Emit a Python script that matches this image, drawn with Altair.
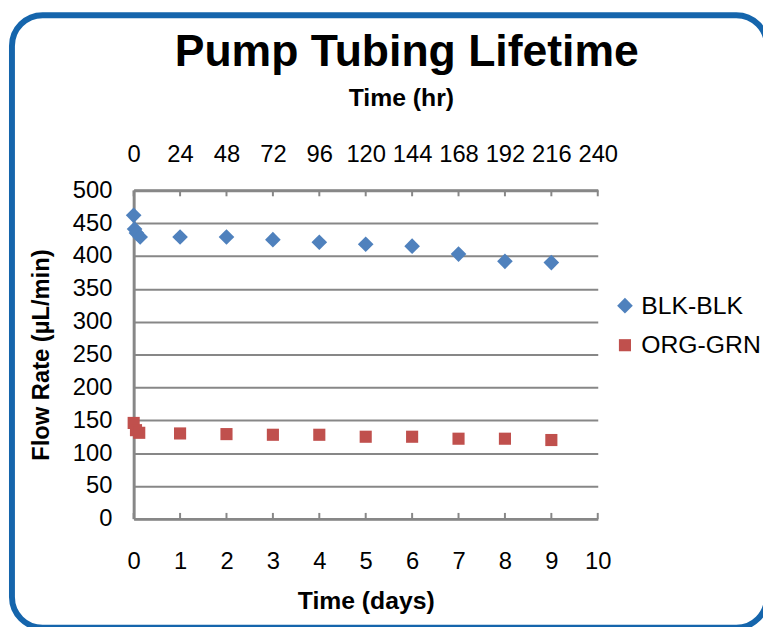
import altair as alt
import pandas as pd

FONT = "Liberation Sans"

# data
blk_days = [0, 0.02, 0.06, 0.14, 1, 2, 3, 4, 5, 6, 7, 8, 9]
blk_flow = [462, 441, 435, 429, 429, 429, 425, 421, 418, 415, 403, 392, 390]
org_days = [0, 0.05, 0.12, 1, 2, 3, 4, 5, 6, 7, 8, 9]
org_flow = [146, 135, 131, 130, 129, 128, 128, 125, 125, 122, 122, 120]
series = ["BLK-BLK", "ORG-GRN"]
day_ticks = list(range(0, 11))
hour_ticks = list(range(0, 241, 24))
y_ticks = list(range(0, 501, 50))
title_text = "Pump Tubing Lifetime"

df = pd.DataFrame(
    {"day": blk_days + org_days,
     "flow": blk_flow + org_flow,
     "series": [series[0]] * len(blk_days) + [series[1]] * len(org_days)}
)

W, H = 469, 332
PL = 127
GRAY = "#878787"

legend = alt.Legend(title=None, orient="none", legendX=484, legendY=104,
                    labelFont=FONT, labelFontSize=25, labelColor="black",
                    symbolSize=170, rowPadding=14, labelOffset=4,
                    symbolStrokeWidth=0)

points = alt.Chart(df).mark_point(filled=True, opacity=1).encode(
    x=alt.X("day:Q", scale=alt.Scale(domain=[0, 10], nice=False),
            axis=alt.Axis(values=day_ticks, title="Time (days)", orient="bottom",
                          ticks=False, domainColor=GRAY, domainWidth=3, grid=False,
                          labelFont=FONT, labelFontSize=24, labelColor="black",
                          labelPadding=31, labelOverlap=False, labelFlush=False,
                          titleFont=FONT, titleFontSize=25,
                          titleFontWeight="bold", titleColor="black",
                          titleY=83, titleBaseline="middle")),
    y=alt.Y("flow:Q", scale=alt.Scale(domain=[0, 500], nice=False),
            axis=alt.Axis(values=y_ticks, title="Flow Rate (µL/min)", ticks=False,
                          domainColor=GRAY, domainWidth=3, grid=True,
                          gridColor=GRAY, gridWidth=2, labelFont=FONT,
                          labelFontSize=24, labelColor="black", labelPadding=22,
                          labelOverlap=False,
                          titleFont=FONT, titleFontSize=24, titleFontWeight="bold",
                          titleColor="black", titleX=-93, titleY=H / 2,
                          titleAngle=-90, titleAlign="center",
                          titleBaseline="middle")),
    color=alt.Color("series:N", scale=alt.Scale(domain=series, range=["#4F81BD", "#C0504D"]),
                    legend=legend),
    shape=alt.Shape("series:N", scale=alt.Scale(domain=series, range=["diamond", "square"]),
                    legend=legend),
    size=alt.Size("series:N", scale=alt.Scale(domain=series, range=[250, 150]),
                  legend=None),
)

bottom_ticks = alt.Chart(pd.DataFrame({"day": day_ticks})).mark_rule(
    color=GRAY, strokeWidth=2).encode(
    x=alt.X("day:Q", scale=alt.Scale(domain=[0, 10], nice=False), axis=None),
    y=alt.value(H), y2=alt.value(H - 6),
)

top_ticks = alt.Chart(pd.DataFrame({"hour": hour_ticks})).mark_rule(
    color=GRAY, strokeWidth=2).encode(
    x=alt.X("hour:Q", scale=alt.Scale(domain=[0, 240], nice=False),
            axis=alt.Axis(orient="top", values=hour_ticks, title="Time (hr)",
                          ticks=False, domainColor=GRAY, domainWidth=3,
                          labelFont=FONT, labelFontSize=24, labelColor="black",
                          labelPadding=24, labelOverlap=False, labelFlush=False,
                          titleFont=FONT, titleFontSize=25,
                          titleFontWeight="bold", titleColor="black",
                          titleX=270, titleY=-94, titleAlign="center",
                          titleBaseline="middle")),
    y=alt.value(0), y2=alt.value(6),
)

border = alt.Chart(alt.Data(values=[{}])).mark_rect(
    filled=False, stroke="#1565AC", strokeWidth=6, cornerRadius=31).encode(
    x=alt.value(-123), x2=alt.value(640), y=alt.value(-177), y2=alt.value(442),
)

title = alt.Chart(alt.Data(values=[{}])).mark_text(
    font=FONT, fontSize=45, fontWeight="bold", color="black",
    align="center", baseline="alphabetic").encode(
    text=alt.value(title_text), x=alt.value(276), y=alt.value(-126),
)

chart = alt.layer(border, title, points, bottom_ticks, top_ticks).resolve_scale(
    x="independent"
).properties(
    width=W, height=H,
    autosize=alt.AutoSizeParams(type="none"),
    padding={"left": PL, "top": 181, "right": 763 - PL - W, "bottom": 106},
).configure_view(stroke=None)

chart.save("out.html", embed_options={"renderer": "svg", "actions": False})
